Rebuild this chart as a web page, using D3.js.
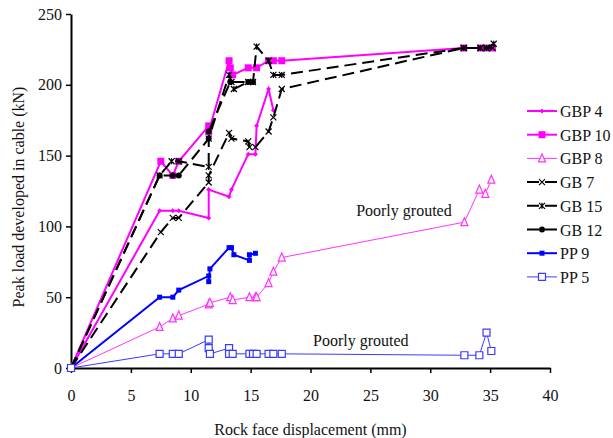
<!DOCTYPE html>
<html>
<head>
<meta charset="utf-8">
<script src="https://cdn.jsdelivr.net/npm/d3@7"></script>
<style>
body { margin: 0; background: #fff; }
text { font-family: "Liberation Serif", "Times New Roman", serif; fill: #111; }
</style>
</head>
<body>
<script>
// values: [displacement mm, load kN]
var gbp4 = [[0,0],[7.4,111],[8.5,111],[9.0,111],[11.5,106],[11.5,126],[13.2,121],[13.4,126],[14.8,151],[15.4,151],[15.5,171],[16.5,197],[16.9,182]];
var gbp10 = [[0,0],[7.5,146],[8.5,136],[9.0,146],[11.5,171],[11.5,167],[13.2,217],[13.3,212],[13.5,207],[14.8,212],[15.5,212],[16.5,217],[16.9,217],[17.6,217],[32.8,226],[34.2,226],[34.7,226],[35.2,226]];
var gbp8 = [[0,0],[7.4,29],[8.5,35],[9.0,37],[11.5,45],[11.6,46],[13.3,50],[13.5,48],[14.9,50],[15.4,50],[15.5,50],[16.5,60],[16.9,68],[17.6,78],[32.85,103],[34.1,126],[34.6,123],[35.1,133]];
var gb7 = [[0,0],[7.5,96],[8.5,106],[9.0,106],[11.5,131],[11.5,136],[13.2,166],[13.4,162],[14.8,160],[14.9,156],[15.4,156],[16.5,167],[16.9,177],[17.6,197],[32.8,226],[34.2,226],[34.7,226],[35.2,226]];
var gb15 = [[0,0],[7.4,136],[8.4,146],[9.0,146],[11.5,142],[11.5,162],[13.2,207],[13.4,202],[13.6,197],[14.8,202],[15.2,202],[15.5,227],[16.5,217],[16.9,207],[17.6,207],[32.8,226],[34.2,226],[34.7,226],[35.3,229]];
var gb12 = [[0,0],[7.4,136],[8.5,136],[9.0,136],[11.5,162],[11.5,167],[13.3,202],[14.8,202],[15.2,202]];
var pp9 = [[0,0],[7.4,50],[8.5,50],[9.0,55],[11.5,65],[11.5,61],[11.6,70],[13.2,85],[13.4,85],[13.6,80],[14.9,76],[14.9,80],[15.4,81]];
var pp5 = [[0,0],[7.4,10],[8.5,10],[9.0,10],[11.5,20],[11.5,14],[11.6,10],[13.2,14],[13.2,10],[13.5,10],[14.9,10],[15.2,10],[15.5,10],[16.5,10],[16.9,10],[17.6,10],[32.85,9],[34.1,9],[34.7,25],[35.1,12]];

var names = ["GBP 4", "GBP 10", "GBP 8", "GB 7", "GB 15", "GB 12", "PP 9", "PP 5"];
var xTicks = [0, 5, 10, 15, 20, 25, 30, 35, 40];
var yTicks = [0, 50, 100, 150, 200, 250];
var notes = [{text: "Poorly grouted", x: 27.8, y: 107}, {text: "Poorly grouted", x: 24.2, y: 15.5}];

var series = [
  {name: names[0], data: gbp4, color: "#ff00ff", width: 2, dash: null, marker: "diamond", size: 5},
  {name: names[1], data: gbp10, color: "#ff00ff", width: 2, dash: null, marker: "square", size: 7},
  {name: names[2], data: gbp8, color: "#ff33ff", width: 1, dash: null, marker: "triangle", size: 7},
  {name: names[3], data: gb7, color: "#000", width: 2, dash: "12,6", marker: "x", size: 6},
  {name: names[4], data: gb15, color: "#000", width: 2, dash: "12,6", marker: "star", size: 6},
  {name: names[5], data: gb12, color: "#000", width: 2, dash: "12,6", marker: "circle", size: 6},
  {name: names[6], data: pp9, color: "#0000ff", width: 2, dash: null, marker: "dot", size: 5},
  {name: names[7], data: pp5, color: "#3b3bff", width: 1, dash: null, marker: "open", size: 7}
];

d3.select("body").append("svg")
  .attr("width", 613)
  .attr("height", 438);

var svg = d3.select("svg");

var margin = {top: 14, right: 63, bottom: 70, left: 71};
var width = 613 - margin.left - margin.right;
var height = 438 - margin.top - margin.bottom;

var g = svg.append("g")
  .attr("transform", "translate(" + margin.left + "," + margin.top + ")");

var xScale = d3.scaleLinear().domain([0, 40]).range([0, width]);
var yScale = d3.scaleLinear().domain([0, 250]).range([height, 0]);

var xAxis = g.append("g")
  .attr("transform", "translate(0," + height + ")")
  .call(d3.axisBottom(xScale).tickValues(xTicks).tickSize(5).tickSizeOuter(0).tickPadding(17));
var yAxis = g.append("g")
  .call(d3.axisLeft(yScale).tickValues(yTicks).tickSize(5).tickSizeOuter(0).tickPadding(4));

[xAxis, yAxis].forEach(function(a) {
  a.select(".domain").attr("stroke", "#000").attr("stroke-width", 2);
  a.selectAll(".tick line").attr("stroke", "#000").attr("stroke-width", 1.5);
  a.selectAll(".tick text").style("font-family", "Liberation Serif").style("font-size", "16px").attr("fill", "#111");
});

svg.append("text")
  .attr("x", margin.left + width / 2)
  .attr("y", 435)
  .attr("text-anchor", "middle")
  .style("font-size", "16px")
  .text("Rock face displacement (mm)");

svg.append("text")
  .attr("transform", "translate(24," + (margin.top + height / 2 + 6) + ") rotate(-90)")
  .attr("text-anchor", "middle")
  .style("font-size", "16px")
  .text("Peak load developed in cable (kN)");

function markerPath(type, s) {
  var h = s / 2;
  if (type === "diamond") return "M0," + (-h) + "L" + h + ",0L0," + h + "L" + (-h) + ",0Z";
  if (type === "square" || type === "open" || type === "dot") return "M" + (-h) + "," + (-h) + "h" + s + "v" + s + "h" + (-s) + "Z";
  if (type === "triangle") return "M0," + (-h - 1) + "L" + h + "," + h + "L" + (-h) + "," + h + "Z";
  if (type === "x") return "M" + (-h) + "," + (-h) + "L" + h + "," + h + "M" + h + "," + (-h) + "L" + (-h) + "," + h;
  if (type === "star") return "M" + (-h) + "," + (-h) + "L" + h + "," + h + "M" + h + "," + (-h) + "L" + (-h) + "," + h + "M0," + (-h) + "V" + h;
  return null;
}

function drawMarker(sel, s) {
  if (s.marker === "circle") {
    sel.append("circle").attr("r", s.size / 2).attr("fill", s.color);
    return;
  }
  var p = sel.append("path").attr("d", markerPath(s.marker, s.size));
  if (s.marker === "x" || s.marker === "star") {
    p.attr("fill", "none").attr("stroke", s.color).attr("stroke-width", 1.2);
  } else if (s.marker === "triangle" || s.marker === "open") {
    p.attr("fill", "#fff").attr("stroke", s.color).attr("stroke-width", 1.2);
  } else {
    p.attr("fill", s.color);
  }
}

var line = d3.line()
  .x(function(d) { return xScale(d[0]); })
  .y(function(d) { return yScale(d[1]); });

series.forEach(function(s) {
  g.append("path")
    .datum(s.data)
    .attr("d", line)
    .attr("fill", "none")
    .attr("stroke", s.color)
    .attr("stroke-width", s.width)
    .attr("stroke-dasharray", s.dash);
  g.selectAll(null)
    .data(s.data)
    .enter().append("g")
    .attr("transform", function(d) { return "translate(" + xScale(d[0]) + "," + yScale(d[1]) + ")"; })
    .each(function() { drawMarker(d3.select(this), s); });
});

notes.forEach(function(n) {
  g.append("text")
    .attr("x", xScale(n.x))
    .attr("y", yScale(n.y))
    .attr("text-anchor", "middle")
    .style("font-size", "16px")
    .text(n.text);
});

var legend = svg.append("g").attr("transform", "translate(527,111)");
series.forEach(function(s, i) {
  var row = legend.append("g").attr("transform", "translate(0," + (i * 23.7) + ")");
  row.append("line")
    .attr("x1", 0).attr("x2", 30)
    .attr("stroke", s.color)
    .attr("stroke-width", s.width)
    .attr("stroke-dasharray", s.dash ? "12,6" : null);
  drawMarker(row.append("g").attr("transform", "translate(15,0)"), s);
  row.append("text")
    .attr("x", 33)
    .attr("y", 6)
    .style("font-size", "16px")
    .text(s.name);
});
</script>
</body>
</html>
